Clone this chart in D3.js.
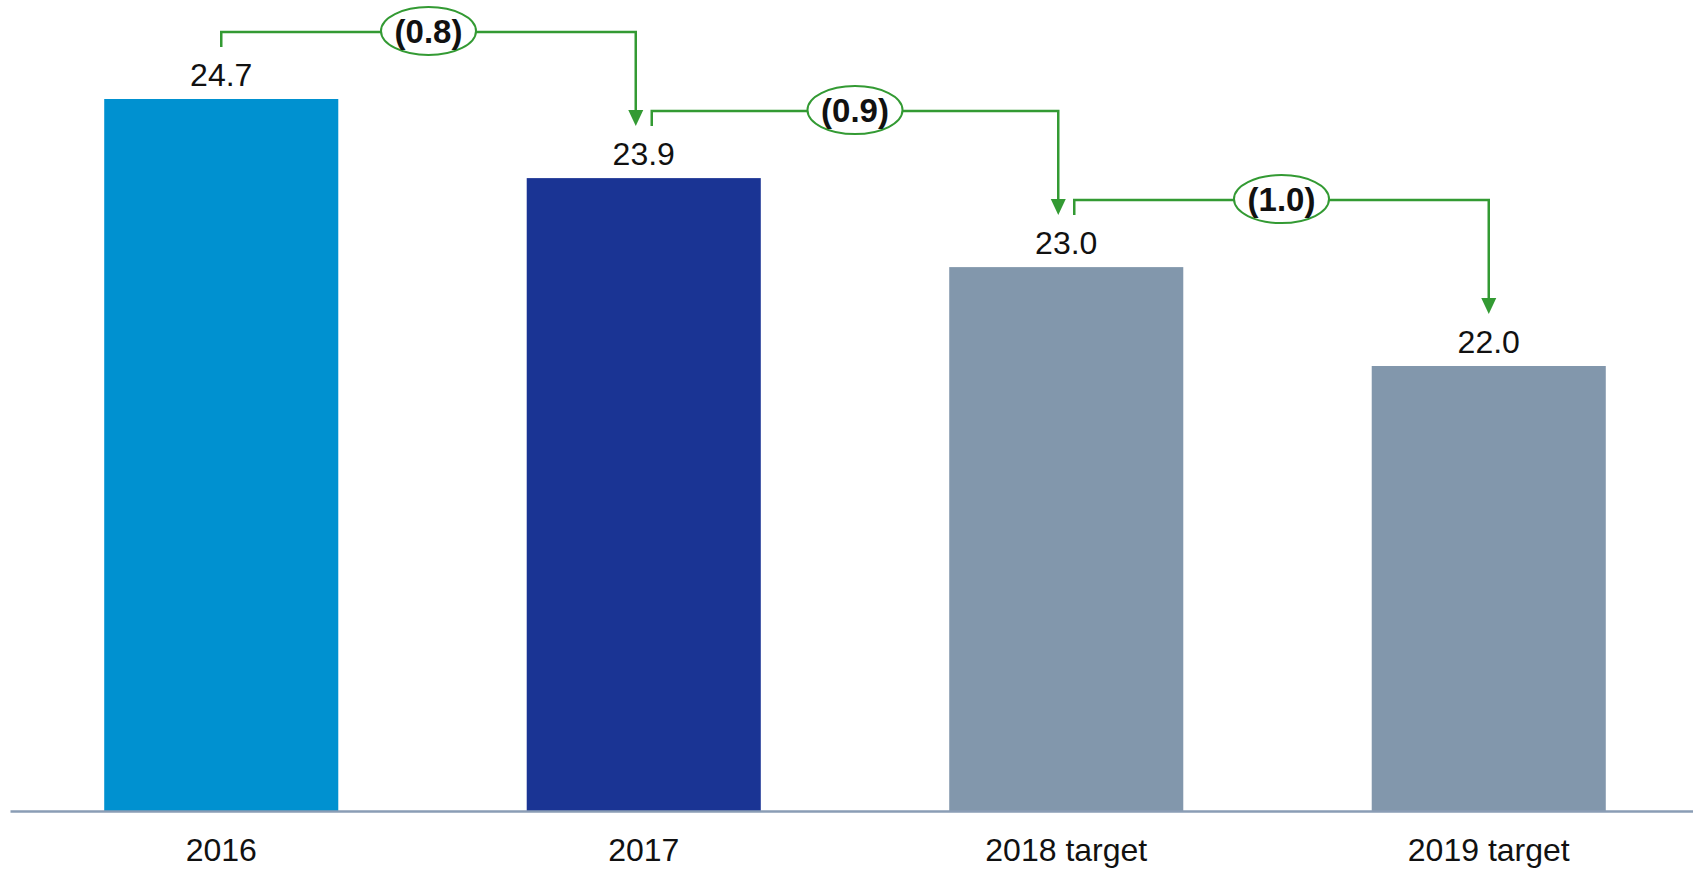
<!DOCTYPE html>
<html>
<head>
<meta charset="utf-8">
<script src="https://cdn.jsdelivr.net/npm/d3@7"></script>
<style>
  html, body { margin: 0; padding: 0; background: #fff; }
  svg { display: block; font-family: "Liberation Sans", Arial, sans-serif; }
</style>
</head>
<body>
<svg id="chart" width="1693" height="869"></svg>
<script>
const categories = ["2016", "2017", "2018 target", "2019 target"];
const values = [24.7, 23.9, 23.0, 22.0];
const changeLabels = ["(0.8)", "(0.9)", "(1.0)"];
const barColors = ["#0091d0", "#1a3494", "#8297ac", "#8297ac"];

const svg = d3.select("#chart");
const baseY = 811;

const x = d3.scaleBand()
  .domain(categories)
  .range([10, 1700])
  .paddingInner(0.446)
  .paddingOuter(0.223);

const y = d3.scaleLinear()
  .domain([17.5, 24.7])
  .range([baseY, 99]);

const green = "#339a33";

// bars
svg.append("g").selectAll("rect")
  .data(categories)
  .join("rect")
  .attr("x", d => x(d))
  .attr("y", (d, i) => y(values[i]))
  .attr("width", x.bandwidth())
  .attr("height", (d, i) => baseY - y(values[i]))
  .attr("fill", (d, i) => barColors[i]);

// value labels
svg.append("g").selectAll("text")
  .data(categories)
  .join("text")
  .attr("x", d => x(d) + x.bandwidth() / 2)
  .attr("y", (d, i) => y(values[i]) - 13)
  .attr("text-anchor", "middle")
  .attr("font-size", 32)
  .attr("fill", "#111")
  .text((d, i) => values[i].toFixed(1));

// axis
const axis = svg.append("g")
  .attr("transform", `translate(0,${baseY})`)
  .call(d3.axisBottom(x).tickSize(0).tickSizeOuter(0).tickPadding(27));
axis.select(".domain").attr("stroke", "#8a9db5").attr("stroke-width", 2.5);
axis.selectAll("text")
  .attr("font-size", 32)
  .attr("font-family", "\"Liberation Sans\", Arial, sans-serif")
  .attr("fill", "#111");

// connectors
const conn = svg.append("g");
const last = categories.length - 1;
changeLabels.forEach((lab, i) => {
  const c0 = x(categories[i]) + x.bandwidth() / 2;
  const c1 = x(categories[i + 1]) + x.bandwidth() / 2;
  const sx = c0 + (i === 0 ? 0 : 8);
  const ex = c1 + (i + 1 === last ? 0 : -8);
  const top0 = y(values[i]);
  const top1 = y(values[i + 1]);
  const hy = top0 - 67;
  const sy = top0 - 52;
  const tipY = top1 - 52;
  const headH = 16, headW = 15;

  conn.append("path")
    .attr("d", `M${sx},${sy} L${sx},${hy} L${ex},${hy} L${ex},${tipY - headH + 2}`)
    .attr("fill", "none")
    .attr("stroke", green)
    .attr("stroke-width", 2.5);

  conn.append("path")
    .attr("d", `M${ex - headW / 2},${tipY - headH} L${ex + headW / 2},${tipY - headH} L${ex},${tipY} Z`)
    .attr("fill", green);

  const mx = (sx + ex) / 2;
  conn.append("ellipse")
    .attr("cx", mx)
    .attr("cy", hy - 1)
    .attr("rx", 47.5)
    .attr("ry", 24)
    .attr("fill", "#fff")
    .attr("stroke", green)
    .attr("stroke-width", 2);

  conn.append("text")
    .attr("x", mx)
    .attr("y", hy + 11)
    .attr("text-anchor", "middle")
    .attr("font-size", 33)
    .attr("font-weight", "bold")
    .attr("fill", "#111")
    .text(lab);
});
</script>
</body>
</html>
